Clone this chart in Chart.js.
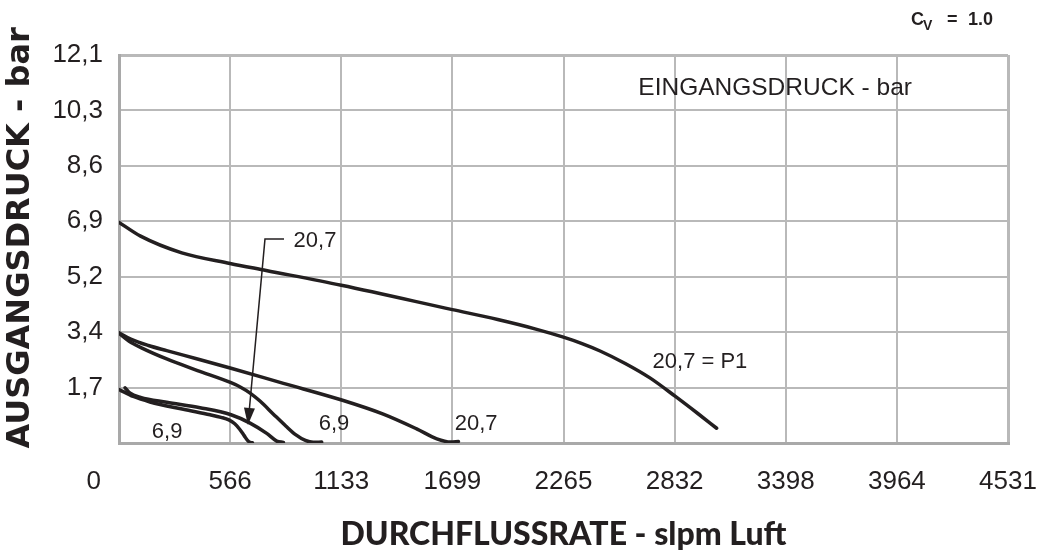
<!DOCTYPE html>
<html><head><meta charset="utf-8">
<style>html,body{margin:0;padding:0;background:#fff}#wrap{width:1040px;height:560px}</style>
<script src="https://cdn.jsdelivr.net/npm/chart.js@4.4.1/dist/chart.umd.min.js"></script>
</head><body><div id="wrap"><canvas id="c" width="1040" height="560"></canvas></div>
<script>
// ---- data (flow in slpm, outlet pressure in bar) ----
const xTickLabels = ['0', '566', '1133', '1699', '2265', '2832', '3398', '3964', '4531'];
const yTickLabels = ['', '1,7', '3,4', '5,2', '6,9', '8,6', '10,3', '12,1'];
const xMax = 4531;
const yMax = 12.1;

// set pressure 6,9 bar, inlet 20,7 bar
const flowSet69In207 = [0, 110, 320, 566, 750, 1133, 1699, 1930, 2120, 2265, 2360, 2452, 2580, 2706, 2834, 2950, 3046];
const pressSet69In207 = [6.88, 6.45, 5.93, 5.60, 5.38, 4.92, 4.16, 3.85, 3.56, 3.30, 3.10, 2.87, 2.48, 2.03, 1.46, 0.92, 0.46];
// set pressure 3,4 bar, inlet 20,7 bar
const flowSet34In207 = [0, 60, 150, 243, 400, 571, 838, 1135, 1347, 1517, 1620, 1690, 1730];
const pressSet34In207 = [3.44, 3.24, 3.04, 2.88, 2.62, 2.33, 1.86, 1.34, 0.90, 0.44, 0.13, 0.03, 0.05];
// set pressure 3,4 bar, inlet 6,9 bar
const flowSet34In69 = [0, 50, 120, 243, 400, 571, 620, 670, 720, 787, 850, 900, 950, 990, 1033];
const pressSet34In69 = [3.42, 3.18, 2.95, 2.62, 2.26, 1.88, 1.74, 1.55, 1.30, 0.90, 0.53, 0.26, 0.08, 0.02, 0.03];
// set pressure 1,7 bar, inlet 20,7 bar
const flowSet17In207 = [31, 55, 110, 243, 413, 571, 668, 753, 804, 838];
const pressSet17In207 = [1.72, 1.56, 1.42, 1.27, 1.10, 0.88, 0.62, 0.30, 0.06, 0.02];
// set pressure 1,7 bar, inlet 6,9 bar
const flowSet17In69 = [0, 73, 158, 328, 464, 520, 560, 590, 615, 638, 655, 668, 680];
const pressSet17In69 = [1.67, 1.45, 1.28, 1.05, 0.88, 0.80, 0.72, 0.60, 0.43, 0.23, 0.08, 0.02, 0.01];

const seriesNames = ['6,9 / 20,7', '3,4 / 20,7', '3,4 / 6,9', '1,7 / 20,7', '1,7 / 6,9'];
const seriesFlows = [flowSet69In207, flowSet34In207, flowSet34In69, flowSet17In207, flowSet17In69];
const seriesPress = [pressSet69In207, pressSet34In207, pressSet34In69, pressSet17In207, pressSet17In69];

// annotation texts (anchored in data units)
const noteTexts = ['20,7', '6,9', '6,9', '20,7', '20,7 = P1', 'EINGANGSDRUCK - bar'];
const noteFlow = [999, 245, 1096, 1820, 2961, 3344];
const notePress = [6.11, 0.16, 0.41, 0.41, 2.34, 10.85];
const leaderFlow = [841, 744, 657];
const leaderPress = [6.36, 6.36, 0.56];

const INK = '#231f20';
const GRID = '#b9b9b9';
const FONT = "'Liberation Sans', Arial, Helvetica, sans-serif";

const datasets = seriesNames.map((name, k) => ({
  label: name,
  data: seriesFlows[k].map((x, i) => ({x: x, y: seriesPress[k][i]})),
  showLine: true,
  borderColor: INK,
  backgroundColor: INK,
  borderWidth: 3.5,
  borderCapStyle: 'round',
  borderJoinStyle: 'round',
  cubicInterpolationMode: 'monotone',
  pointRadius: 0,
  fill: false
}));

const notesPlugin = {
  id: 'notes',
  afterDatasetsDraw(chart) {
    const ctx = chart.ctx, xs = chart.scales.x, ys = chart.scales.y;
    ctx.save();
    ctx.fillStyle = INK;
    ctx.strokeStyle = INK;
    noteTexts.forEach((t, i) => {
      ctx.font = (i === 5 ? '24.5px ' : '22px ') + FONT;
      ctx.textAlign = 'center';
      ctx.textBaseline = 'alphabetic';
      ctx.fillText(t, xs.getPixelForValue(noteFlow[i]), ys.getPixelForValue(notePress[i]));
    });
    const px = leaderFlow.map(v => xs.getPixelForValue(v));
    const py = leaderPress.map(v => ys.getPixelForValue(v));
    const n = px.length;
    const ang = Math.atan2(py[n-1] - py[n-2], px[n-1] - px[n-2]);
    const headLen = 17, headW = 5.5;
    const bx = px[n-1] - headLen * Math.cos(ang), by = py[n-1] - headLen * Math.sin(ang);
    ctx.lineWidth = 1.5;
    ctx.beginPath();
    ctx.moveTo(px[0], py[0]);
    for (let i = 1; i < n - 1; i++) ctx.lineTo(px[i], py[i]);
    ctx.lineTo(bx, by);
    ctx.stroke();
    ctx.beginPath();
    ctx.moveTo(px[n-1], py[n-1]);
    ctx.lineTo(bx + headW * Math.sin(ang), by - headW * Math.cos(ang));
    ctx.lineTo(bx - headW * Math.sin(ang), by + headW * Math.cos(ang));
    ctx.closePath();
    ctx.fill();
    ctx.textAlign = 'left';
    ctx.font = 'bold 18px ' + FONT;
    ctx.fillText('C', 911, 25);
    ctx.font = 'bold 14px ' + FONT;
    ctx.fillText('V', 923, 30);
    ctx.font = 'bold 18px ' + FONT;
    ctx.fillText('=', 947, 25);
    ctx.fillText('1.0', 968, 25);
    ctx.restore();
  }
};

const edgeWidth = (c) => (c.index === 0 || c.index === c.scale.ticks.length - 1) ? 3 : 2;

new Chart(document.getElementById('c').getContext('2d'), {
  type: 'scatter',
  data: {datasets},
  options: {
    responsive: false,
    animation: false,
    layout: {padding: {top: 55, right: 32, left: 0, bottom: 0}},
    plugins: {legend: {display: false}, tooltip: {enabled: false}},
    scales: {
      x: {
        type: 'linear', min: 0, max: xMax,
        afterBuildTicks: s => { s.ticks = xTickLabels.map((_, i) => ({value: i * xMax / (xTickLabels.length - 1)})); },
        afterFit: s => { s.height = 117; s.paddingRight = 0; s.paddingLeft = 0; },
        ticks: {
          autoSkip: false, maxRotation: 0, padding: 23, color: INK,
          font: {family: FONT, size: 26},
          callback: (v, i) => i === 0 ? xTickLabels[i] + '       ' : xTickLabels[i]
        },
        grid: {color: GRID, lineWidth: edgeWidth, drawTicks: false},
        border: {display: true, color: '#a9a9a9', width: 3},
        title: {
          display: true, text: 'DURCHFLUSSRATE - slpm Luft', color: INK,
          font: {family: "Lato, 'Liberation Sans', Arial, sans-serif", size: 32, weight: 900, lineHeight: 1},
          padding: {top: 0, bottom: 9}
        }
      },
      y: {
        type: 'linear', min: 0, max: yMax,
        afterBuildTicks: s => { s.ticks = yTickLabels.map((_, i) => ({value: i * yMax / (yTickLabels.length - 1)})); },
        afterFit: s => { s.width = 119; },
        ticks: {
          padding: 16, color: INK,
          font: {family: FONT, size: 26},
          callback: (v, i) => yTickLabels[i]
        },
        grid: {color: GRID, lineWidth: edgeWidth, drawTicks: false},
        border: {display: true, color: '#a9a9a9', width: 3},
        title: {
          display: true, text: '  AUSGANGSDRUCK - bar', color: INK,
          font: {family: "'DejaVu Sans', sans-serif", size: 32, weight: 'bold', lineHeight: 1},
          padding: {top: 5, bottom: 0}
        }
      }
    }
  },
  plugins: [notesPlugin]
});
</script>
</body></html>
